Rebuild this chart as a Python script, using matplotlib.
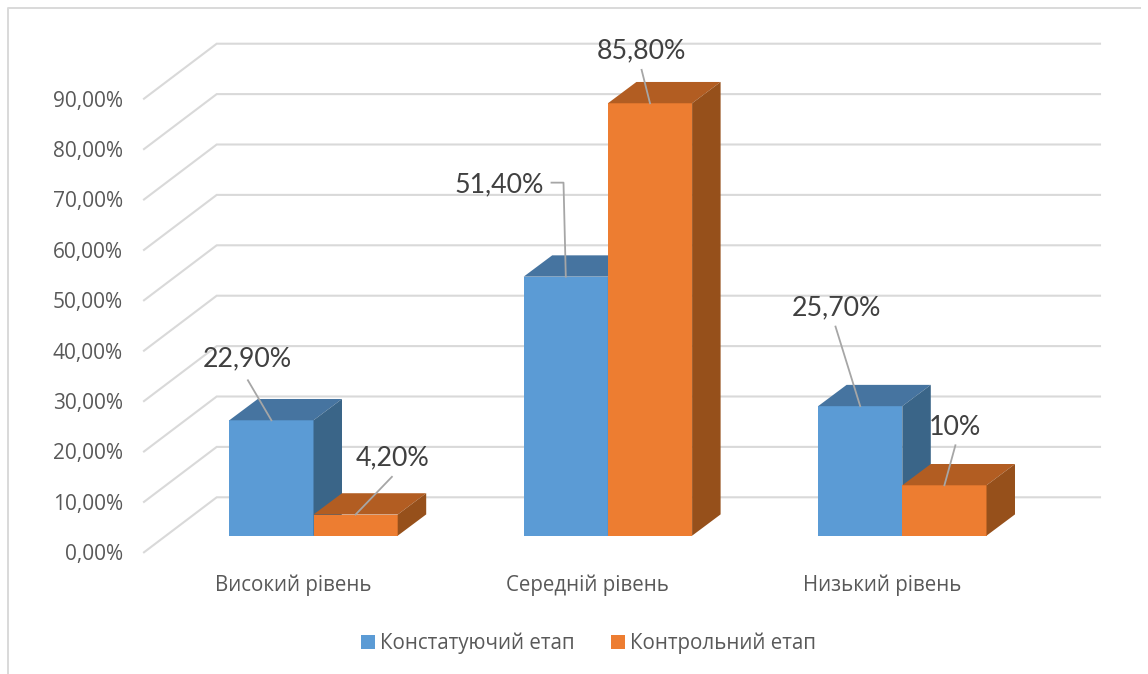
import matplotlib
matplotlib.use("Agg")
import matplotlib.pyplot as plt
from matplotlib.patches import Polygon, Patch

categories = ["Високий рівень", "Середній рівень", "Низький рівень"]
series_names = ["Констатуючий етап", "Контрольний етап"]
stage1 = [22.9, 51.4, 25.7]
stage2 = [4.2, 85.8, 10.0]
stage1_labels = ["22,90%", "51,40%", "25,70%"]
stage2_labels = ["4,20%", "85,80%", "10%"]
y_ticks = [0, 10, 20, 30, 40, 50, 60, 70, 80, 90]
y_tick_labels = ["0,00%", "10,00%", "20,00%", "30,00%", "40,00%",
                 "50,00%", "60,00%", "70,00%", "80,00%", "90,00%"]

W, H = 1148, 674
# pixels per unit of the two axes, and where (0, 0) falls
SX, SY = 294.4, 5.04
X0, Y0 = 313.5, 535.7

fig = plt.figure(figsize=(W / 100, H / 100), dpi=100)
ax = fig.add_axes([0, 0, 1, 1])
ax.set_xlim(-X0 / SX, (W - X0) / SX)
ax.set_ylim((Y0 - H) / SY, Y0 / SY)
ax.axis("off")


def dx(px):
    return px / SX


def dy(px):
    return px / SY


def box(x, w, val, colors):
    # front face, top and side of one 3d bar
    ddx, ddy = dx(28.5), dy(21.3)
    front, top, side = colors
    ax.add_patch(Polygon([(x, 0), (x + w, 0), (x + w, val), (x, val)], fc=front, ec="none", zorder=3))
    ax.add_patch(Polygon([(x, val), (x + w, val), (x + w + ddx, val + ddy), (x + ddx, val + ddy)],
                         fc=top, ec="none", zorder=3))
    ax.add_patch(Polygon([(x + w, 0), (x + w + ddx, ddy), (x + w + ddx, val + ddy), (x + w, val)],
                         fc=side, ec="none", zorder=3))


# chart frame
frame_x, frame_y = dx(7.5 - X0), dy(Y0 - 7.5)
ax.plot([frame_x, frame_x, dx(1140 - X0)], [(Y0 - H) / SY, frame_y, frame_y], color="#D9D9D9", lw=1.4, zorder=1)

# back wall gridlines with the slanted part on the side wall
grid_left = dx(144 - X0)
grid_back = dx(216.7 - X0)
grid_right = dx(1100 - X0)
for t, lab in zip(y_ticks, y_tick_labels):
    front_y = t + dy(Y0 - 552.3)
    back_y = t + dy(Y0 - 497.3)
    ax.plot([grid_left, grid_back, grid_right], [front_y, back_y, back_y], color="#D9D9D9", lw=1.5,
            solid_joinstyle="miter", zorder=2)
    ax.text(dx(123 - X0), front_y - dy(8), lab, ha="right", va="baseline", fontsize=15,
            family="Open Sans", color="#595959")

BLUE = ("#5B9BD5", "#4674A0", "#3A6588")
ORANGE = ("#ED7D31", "#B25D22", "#96501B")
bar_w = 84.2 / SX

for i in range(len(categories)):
    box(i - bar_w, bar_w, stage1[i], BLUE)
    box(i, bar_w, stage2[i], ORANGE)
    ax.text(i - dx(20.5), dy(Y0 - 590.5), categories[i], ha="center", va="baseline", fontsize=14.8,
            family="Open Sans", color="#595959")

# label position and leader line bend, in pixels relative to the bar top centre
stage1_leaders = [
    {"text": (-24, 61), "line": [(-23.5, 40)]},
    {"text": (-66.5, 91.5), "line": [(-2.3, 94), (-14.3, 94)]},
    {"text": (-23.5, 98.5), "line": [(-24.7, 79.6)]},
]
stage2_leaders = [
    {"text": (37, 56.5), "line": [(36.3, 37.7)]},
    {"text": (-8.2, 52), "line": [(-8.4, 33.4)]},
    {"text": (11, 58), "line": [(11, 40)]},
]


def label(cx, val, text, lead):
    xs = [cx] + [cx + dx(p[0]) for p in lead["line"]]
    ys = [val] + [val + dy(p[1]) for p in lead["line"]]
    ax.plot(xs, ys, color="#A6A6A6", lw=1.3, zorder=4)
    ax.text(cx + dx(lead["text"][0]), val + dy(lead["text"][1]), text, ha="center", va="center",
            fontsize=19.3, family="Lato", color="#404040", zorder=5)


for i in range(len(categories)):
    label(i - bar_w / 2, stage1[i], stage1_labels[i], stage1_leaders[i])
    label(i + bar_w / 2, stage2[i], stage2_labels[i], stage2_leaders[i])

handles = [Patch(fc=BLUE[0], ec="none"), Patch(fc=ORANGE[0], ec="none")]
ax.legend(handles, series_names, loc="center", bbox_to_anchor=(588.5 / W, 1 - 643 / H),
          bbox_transform=fig.transFigure, ncol=2, frameon=False,
          prop={"family": "Open Sans", "size": 14.8}, labelcolor="#595959",
          handlelength=0.67, handleheight=0.67, handletextpad=0.25, columnspacing=1.75)

fig.savefig("out.png", dpi=100)
